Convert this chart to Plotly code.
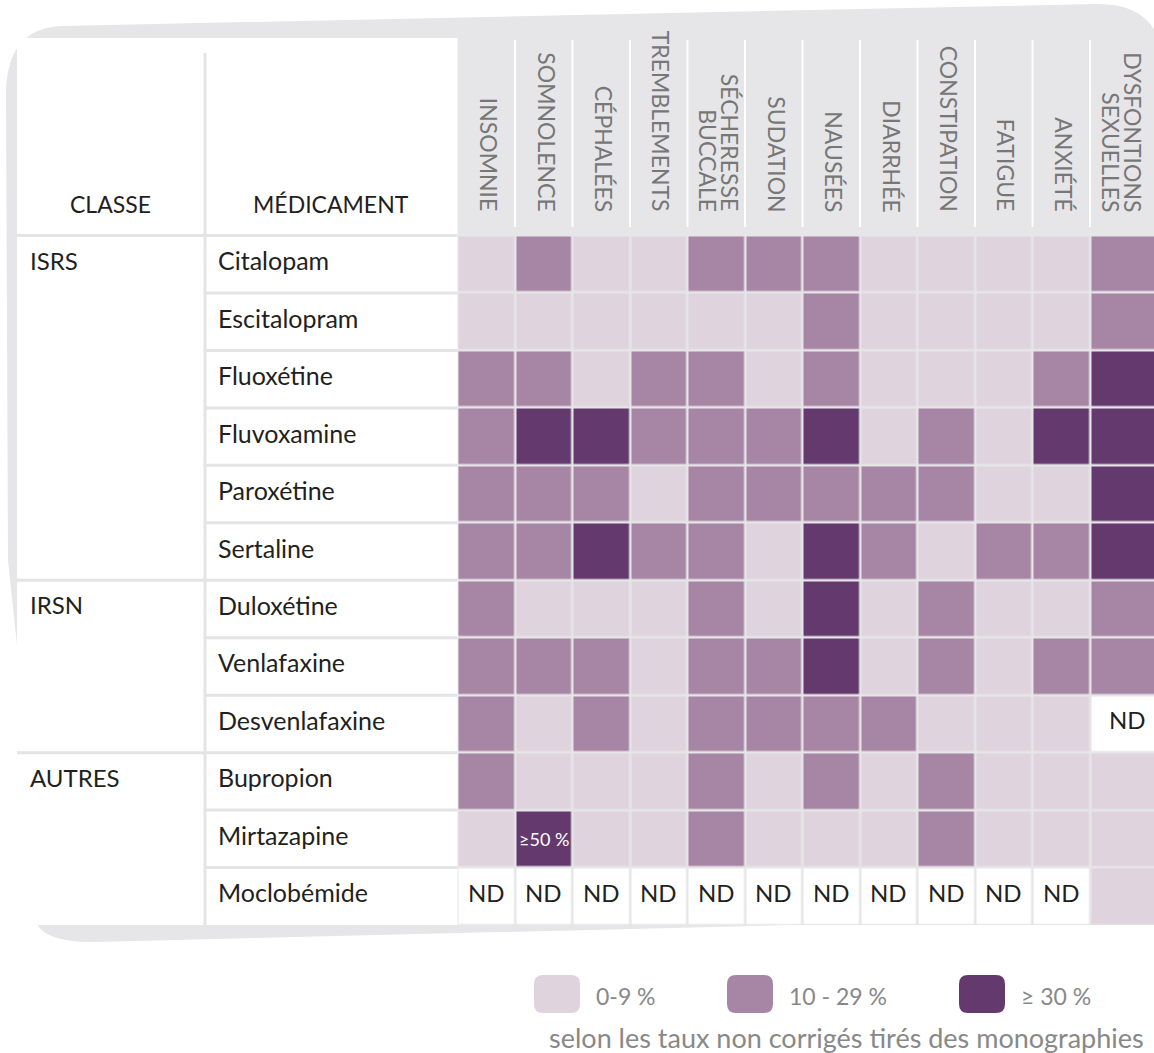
import plotly.graph_objects as go

# ---------------- data ----------------
symptomes = ["INSOMNIE", "SOMNOLENCE", "CÉPHALÉES", "TREMBLEMENTS",
             "SÉCHERESSE<br>BUCCALE", "SUDATION", "NAUSÉES", "DIARRHÉE",
             "CONSTIPATION", "FATIGUE", "ANXIÉTÉ", "DYSFONTIONS<br>SEXUELLES"]
medicaments = ["Citalopam", "Escitalopram", "Fluoxétine", "Fluvoxamine", "Paroxétine",
               "Sertaline", "Duloxétine", "Venlafaxine", "Desvenlafaxine",
               "Bupropion", "Mirtazapine", "Moclobémide"]
classes = ["ISRS", "IRSN", "AUTRES"]
classe_debut = [0, 6, 9]          # first row of each class

# 0 = 0-9 %, 1 = 10-29 %, 2 = >= 30 %, -1 = ND (non disponible)
ND = -1
citalopam      = [0, 1, 0, 0, 1, 1, 1, 0, 0, 0, 0, 1]
escitalopram   = [0, 0, 0, 0, 0, 0, 1, 0, 0, 0, 0, 1]
fluoxetine     = [1, 1, 0, 1, 1, 0, 1, 0, 0, 0, 1, 2]
fluvoxamine    = [1, 2, 2, 1, 1, 1, 2, 0, 1, 0, 2, 2]
paroxetine     = [1, 1, 1, 0, 1, 1, 1, 1, 1, 0, 0, 2]
sertaline      = [1, 1, 2, 1, 1, 0, 2, 1, 0, 1, 1, 2]
duloxetine     = [1, 0, 0, 0, 1, 0, 2, 0, 1, 0, 0, 1]
venlafaxine    = [1, 1, 1, 0, 1, 1, 2, 0, 1, 0, 1, 1]
desvenlafaxine = [1, 0, 1, 0, 1, 1, 1, 1, 0, 0, 0, ND]
bupropion      = [1, 0, 0, 0, 1, 0, 1, 0, 1, 0, 0, 0]
mirtazapine    = [0, 2, 0, 0, 1, 0, 0, 0, 1, 0, 0, 0]
moclobemide    = [ND, ND, ND, ND, ND, ND, ND, ND, ND, ND, ND, 0]

note_cellule = {"medicament": "Mirtazapine", "symptome": 1, "texte": "≥50 %"}

legende_labels = ["0-9 %", "10 - 29 %", "≥ 30 %"]
legende_note = "selon les taux non corrigés tirés des monographies"

z = [citalopam, escitalopram, fluoxetine, fluvoxamine, paroxetine, sertaline,
     duloxetine, venlafaxine, desvenlafaxine, bupropion, mirtazapine, moclobemide]

# ---------------- styling ----------------
W, H = 1154, 1053
C_LIGHT, C_MED, C_DARK = "#dfd3de", "#a785a4", "#64396e"
C_GRAY = "#e6e6e8"
C_LINE = "#e4e4e5"
C_TEXT = "#231f20"
C_HEAD = "#777777"
FONT = "Lato, Open Sans, sans-serif"

GRID_L, GRID_T, GRID_B = 457.5, 235.5, 925.0
PITCH = 57.5


def px(x):
    return x / W


def py(y):
    return 1 - y / H


def P(x, y):
    return f"{px(x):.5f},{py(y):.5f}"


def rounded_rect(x0, y0, x1, y1, r):
    return (f"M {P(x0 + r, y0)} L {P(x1 - r, y0)} Q {P(x1, y0)} {P(x1, y0 + r)} "
            f"L {P(x1, y1 - r)} Q {P(x1, y1)} {P(x1 - r, y1)} L {P(x0 + r, y1)} "
            f"Q {P(x0, y1)} {P(x0, y1 - r)} L {P(x0, y0 + r)} Q {P(x0, y0)} {P(x0 + r, y0)} Z")


def txt(text, x, y, size, color=C_TEXT, xref="paper", yref="paper", xanchor="center",
        yanchor="middle", **kw):
    return dict(text=text, x=x, y=y, xref=xref, yref=yref, xanchor=xanchor,
                yanchor=yanchor, showarrow=False,
                font=dict(family=FONT, size=size, color=color), **kw)


ncol = len(symptomes)
nrow = len(medicaments)
x_edges = [i - 0.5 for i in range(ncol)] + [ncol + 0.5]
x_range = [-0.5, -0.5 + (W - GRID_L) / PITCH]

fig = go.Figure()
fig.add_trace(go.Heatmap(
    z=z, x=x_edges, y=list(range(nrow)),
    zmin=-1, zmax=2,
    colorscale=[[0, "#ffffff"], [1 / 6, "#ffffff"], [1 / 6, C_LIGHT], [0.5, C_LIGHT],
                [0.5, C_MED], [5 / 6, C_MED], [5 / 6, C_DARK], [1, C_DARK]],
    showscale=False, xgap=2.5, ygap=2.5, hoverinfo="skip",
))

shapes = []
# decorative grey card behind the table
card = (f"M {P(6, 95)} Q {P(6, 28)} {P(62, 26)} L {P(1095, 4)} Q {P(1150, 3)} {P(1160, 45)} "
        f"L {P(1160, 916)} L {P(95, 942)} Q {P(45, 943)} {P(36, 922)} L {P(17, 645)} "
        f"L {P(8, 560)} Z")
shapes.append(dict(type="path", path=card, xref="paper", yref="paper",
                   fillcolor=C_GRAY, line=dict(width=0), layer="below"))
# white left panel
shapes.append(dict(type="rect", xref="paper", yref="paper", x0=px(17), x1=px(GRID_L),
                   y0=py(GRID_B), y1=py(38), fillcolor="white", line=dict(width=0),
                   layer="below"))
# left table lines
shapes.append(dict(type="line", xref="paper", yref="paper", x0=px(205), x1=px(205),
                   y0=py(53), y1=py(GRID_B), line=dict(color=C_LINE, width=3)))
shapes.append(dict(type="line", xref="paper", yref="paper", x0=px(17), x1=px(GRID_L),
                   y0=py(GRID_T), y1=py(GRID_T), line=dict(color=C_LINE, width=3)))
for k in range(nrow - 1):
    shapes.append(dict(type="line", xref="paper", yref="y", x0=px(205), x1=px(GRID_L),
                       y0=k + 0.5, y1=k + 0.5, line=dict(color=C_LINE, width=3)))
for s in classe_debut[1:]:
    shapes.append(dict(type="line", xref="paper", yref="y", x0=px(17), x1=px(205),
                       y0=s - 0.5, y1=s - 0.5, line=dict(color=C_LINE, width=3)))
# white separators in the symptom header
for k in range(ncol - 1):
    shapes.append(dict(type="line", xref="x", yref="paper", x0=k + 0.5, x1=k + 0.5,
                       y0=py(227), y1=py(40), line=dict(color="white", width=2)))

annotations = []
# header labels
annotations.append(txt("CLASSE", px(111), py(204), 23))
annotations.append(txt("MÉDICAMENT", px(331), py(204), 23))
for i, s in enumerate(symptomes):
    lignes = s.split("<br>")
    n = len(lignes)
    for j, l in enumerate(lignes):
        # rotated 90° clockwise: first line sits on the right
        shift_px = ((n - 1) / 2 - j) * 22 + 3
        annotations.append(txt(l, i + shift_px / PITCH, py(214), 23, color=C_HEAD,
                               xref="x", yanchor="bottom", textangle=90))
# row labels
for c, r in zip(classes, classe_debut):
    annotations.append(txt(c, px(28), r, 24, yref="y", xanchor="left", yshift=4))
for r, m in enumerate(medicaments):
    annotations.append(txt(m, px(216), r, 25, yref="y", xanchor="left", yshift=4))
# ND labels
for r, row in enumerate(z):
    for c, v in enumerate(row):
        if v == ND:
            annotations.append(txt("ND", c, r, 24, xref="x", yref="y", yshift=4,
                                   xshift=9 if c == ncol - 1 else 0))
annotations.append(txt(note_cellule["texte"], note_cellule["symptome"],
                       medicaments.index(note_cellule["medicament"]), 18, color="white",
                       xref="x", yref="y"))

# legend
leg_cols = [C_LIGHT, C_MED, C_DARK]
leg_x = [534, 727, 959]
for xs, col, lab in zip(leg_x, leg_cols, legende_labels):
    shapes.append(dict(type="path", xref="paper", yref="paper",
                       path=rounded_rect(xs, 975, xs + 46, 1013, 9),
                       fillcolor=col, line=dict(width=0)))
    annotations.append(txt(lab, px(xs + 60), py(996), 23, color="#888888", xanchor="left"))
annotations.append(txt(legende_note, px(846), py(1037), 27, color="#888888"))

fig.update_layout(
    width=W, height=H, margin=dict(l=0, r=0, t=0, b=0, pad=0),
    paper_bgcolor="white", plot_bgcolor=C_LINE,
    xaxis=dict(domain=[px(GRID_L), 1], range=x_range, visible=False, fixedrange=True),
    yaxis=dict(domain=[py(GRID_B), py(GRID_T)], range=[nrow - 0.5, -0.5], visible=False,
               fixedrange=True),
    shapes=shapes, annotations=annotations, showlegend=False,
)

fig.write_html("out.html", config={"displayModeBar": False},
               post_script="document.body.style.margin='0px';"
                           "document.body.style.overflow='hidden';")
